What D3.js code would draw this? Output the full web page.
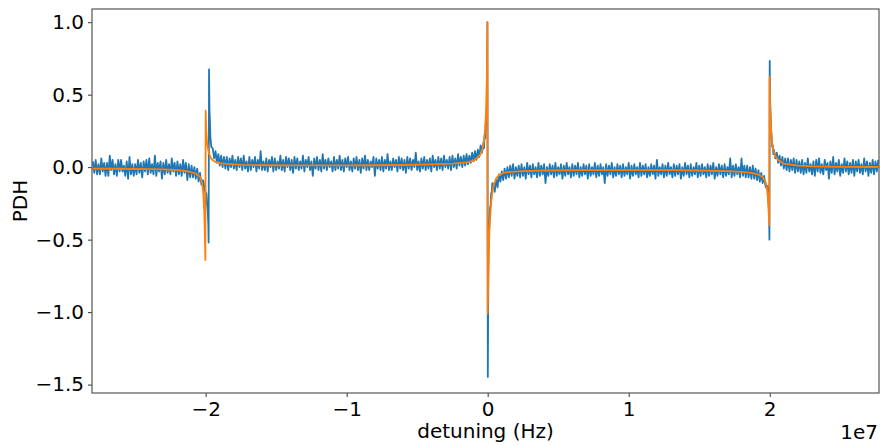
<!DOCTYPE html>
<html>
<head>
<meta charset="utf-8">
<script src="https://cdn.jsdelivr.net/npm/d3@7"></script>
<style>
  html, body { margin: 0; padding: 0; background: #fff; }
  svg { display: block; }
  text { font-family: "DejaVu Sans", sans-serif; fill: #000; }
</style>
</head>
<body>
<div id="chart"></div>
<script>
// ---------------- data ----------------
// measured PDH signal on a regular sweep (Hz); null where the finer resonance samples below take over
const sweepStart = -2.8e7;
const sweepStep = 1e5;
const sweepSignal = [
  // -2.80e7 .. -2.03e7
  0.04, -0.04, 0.05, -0.05, 0.02, -0.05, 0.06, -0.03, 0.03, -0.06,
  0.03, -0.06, 0.08, -0.02, 0.05, -0.05, 0.02, -0.06, 0.05, -0.03,
  0.05, -0.03, 0.01, -0.06, 0.04, -0.08, 0.07, -0.05, 0.02, -0.06,
  0.02, -0.05, 0.05, -0.04, 0.03, -0.07, 0.04, -0.03, 0.05, -0.05,
  0.06, -0.04, 0.02, -0.05, 0.08, -0.06, 0.03, -0.03, 0.04, -0.08,
  0.03, -0.05, 0.05, -0.04, 0.02, -0.05, 0.06, -0.03, 0.03, -0.06,
  0.04, -0.05, 0.02, -0.06, 0.05, -0.04, 0.03, -0.09, 0.02, -0.07,
  0.01, -0.07, 0.00, -0.08, -0.01, -0.10, -0.04, -0.12,
  null, null, null, null, null, null, null,
  // -1.95e7 .. -0.04e7
  0.13, 0.06, 0.11, 0.03, 0.09, 0.01, 0.08, 0.00, 0.07, -0.01,
  0.07, -0.02, 0.06, 0.00, 0.08, -0.01, 0.05, -0.02, 0.07, 0.00,
  0.06, -0.02, 0.08, -0.01, 0.04, -0.03, 0.07, -0.02, 0.05, 0.00,
  0.07, -0.03, 0.05, -0.01, 0.11, -0.02, 0.04, -0.02, 0.06, -0.03,
  0.05, 0.00, 0.07, -0.03, 0.06, -0.02, 0.04, -0.01, 0.08, -0.02,
  0.05, -0.03, 0.07, 0.00, 0.06, -0.02, 0.05, -0.04, 0.07, -0.01,
  0.06, -0.02, 0.04, -0.01, 0.08, -0.03, 0.05, 0.00, 0.07, -0.02,
  0.04, -0.06, 0.06, -0.01, 0.07, -0.02, 0.05, -0.03, 0.09, -0.01,
  0.05, -0.02, 0.06, 0.00, 0.04, -0.03, 0.07, -0.02, 0.05, -0.01,
  0.08, -0.02, 0.05, -0.03, 0.06, 0.00, 0.07, -0.02, 0.04, -0.03,
  0.06, -0.01, 0.07, -0.02, 0.05, -0.04, 0.06, -0.01, 0.08, -0.02,
  0.05, -0.02, 0.04, 0.00, 0.07, -0.06, 0.06, -0.01, 0.05, -0.02,
  0.07, -0.03, 0.05, -0.01, 0.09, -0.02, 0.04, -0.02, 0.06, 0.00,
  0.05, -0.03, 0.07, -0.01, 0.06, -0.02, 0.05, -0.04, 0.07, -0.01,
  0.06, -0.02, 0.05, 0.00, 0.10, -0.02, 0.04, -0.03, 0.06, -0.01,
  0.07, -0.02, 0.05, -0.01, 0.06, -0.03, 0.08, 0.00, 0.05, -0.02,
  0.07, -0.01, 0.06, -0.02, 0.08, 0.00, 0.05, -0.01, 0.07, -0.02,
  0.08, 0.00, 0.06, -0.01, 0.09, 0.01, 0.07, 0.00, 0.08, 0.01,
  0.09, 0.02, 0.08, 0.03, 0.10, 0.04, 0.11, 0.05, 0.12, 0.07, 0.15, 0.10,
  null, null, null, null, null, null, null,
  // 0.04e7 .. 1.97e7
  -0.12, -0.17, -0.08, -0.14, -0.05, -0.10, -0.03, -0.09, -0.01, -0.08,
  0.00, -0.07, 0.01, -0.06, 0.02, -0.08, 0.00, -0.06, 0.01, -0.07,
  0.02, -0.06, 0.00, -0.08, 0.03, -0.05, 0.01, -0.07, 0.02, -0.05,
  0.00, -0.07, 0.03, -0.06, 0.01, -0.05, 0.02, -0.11, 0.00, -0.06,
  0.02, -0.05, 0.01, -0.07, 0.03, -0.06, 0.00, -0.05, 0.02, -0.08,
  0.01, -0.06, 0.03, -0.05, 0.00, -0.07, 0.02, -0.06, 0.01, -0.05,
  0.03, -0.07, 0.00, -0.06, 0.02, -0.05, 0.01, -0.08, 0.02, -0.06,
  0.00, -0.05, 0.03, -0.07, 0.01, -0.06, 0.02, -0.05, 0.00, -0.11,
  0.02, -0.06, 0.01, -0.05, 0.03, -0.07, 0.00, -0.06, 0.02, -0.05,
  0.01, -0.07, 0.02, -0.06, 0.00, -0.05, 0.03, -0.08, 0.01, -0.06,
  0.02, -0.05, 0.00, -0.07, 0.03, -0.06, 0.01, -0.05, 0.02, -0.07,
  0.00, -0.06, 0.02, -0.05, 0.01, -0.08, 0.05, -0.06, 0.00, -0.05,
  0.02, -0.07, 0.01, -0.06, 0.03, -0.05, 0.00, -0.07, 0.02, -0.06,
  0.01, -0.05, 0.02, -0.08, 0.00, -0.06, 0.03, -0.05, 0.01, -0.07,
  0.02, -0.06, 0.00, -0.05, 0.03, -0.07, 0.01, -0.06, 0.02, -0.05,
  0.00, -0.07, 0.02, -0.06, 0.01, -0.05, 0.03, -0.08, 0.00, -0.06,
  0.02, -0.05, 0.01, -0.07, 0.02, -0.06, 0.00, -0.05, 0.06, -0.07,
  0.01, -0.06, 0.02, -0.05, 0.00, -0.07, 0.06, -0.06, 0.01, -0.07,
  0.01, -0.07, 0.00, -0.08, 0.01, -0.08, -0.01, -0.09, -0.02, -0.10,
  -0.04, -0.11, -0.06, -0.13,
  null, null, null, null, null,
  // 2.03e7 .. 2.77e7
  0.12, 0.06, 0.10, 0.03, 0.08, 0.01, 0.07, -0.01, 0.06, -0.02,
  0.06, -0.03, 0.05, -0.02, 0.06, -0.04, 0.05, -0.03, 0.04, -0.04,
  0.05, -0.05, 0.03, -0.04, 0.06, -0.03, 0.02, -0.05, 0.04, -0.06,
  0.05, -0.03, 0.06, -0.04, 0.02, -0.05, 0.05, -0.02, 0.03, -0.08,
  0.04, -0.04, 0.07, -0.05, 0.03, -0.03, 0.05, -0.06, 0.02, -0.04,
  0.06, -0.03, 0.04, -0.05, 0.03, -0.04, 0.05, -0.06, 0.04, -0.03,
  0.05, -0.04, 0.02, -0.05, 0.06, -0.03, 0.04, -0.06, 0.03, -0.04,
  0.05, -0.05, 0.04, -0.03, 0.05
];
// finer samples of the measured signal around the three resonances (Hz)
const resonanceDetuning = [
  -2.020e7, -2.015e7, -2.010e7, -2.005e7, -2.000e7, -1.995e7, -1.990e7, -1.985e7, -1.981e7, -1.979e7,
  -1.976e7, -1.973e7, -1.970e7, -1.967e7, -1.963e7, -1.960e7,
  -0.030e7, -0.026e7, -0.022e7, -0.018e7, -0.014e7, -0.010e7, -0.007e7, -0.004e7, -0.002e7,
  0.001e7, 0.005e7, 0.009e7, 0.013e7, 0.017e7, 0.021e7, 0.025e7, 0.029e7, 0.033e7,
  1.980e7, 1.985e7, 1.989e7, 1.993e7, 1.996e7, 1.998e7,
  2.000e7, 2.003e7, 2.006e7, 2.010e7, 2.014e7, 2.018e7, 2.022e7, 2.026e7
];
const resonanceSignal = [
  -0.09, -0.10, -0.16, -0.13, -0.21, -0.18, -0.26, -0.30, -0.40, -0.52,
  0.675, 0.40, 0.33, 0.22, 0.17, 0.14,
  0.17, 0.13, 0.22, 0.20, 0.30, 0.33, 0.40, 0.55, 1.00,
  -1.447, -0.62, -0.45, -0.36, -0.28, -0.26, -0.18, -0.17, -0.11,
  -0.15, -0.13, -0.22, -0.25, -0.35, -0.50,
  0.733, 0.45, 0.36, 0.26, 0.20, 0.14, 0.15, 0.09
];
// fitted PDH model
const fitDetuning = [
  -2.806e7, -2.6e7, -2.4e7, -2.3e7, -2.2e7, -2.12e7, -2.07e7, -2.04e7, -2.025e7, -2.017e7,
  -2.010e7, -2.006e7, -2.002e7, -2.000e7, -1.996e7, -1.990e7, -1.982e7, -1.975e7, -1.96e7, -1.94e7,
  -1.90e7, -1.85e7, -1.75e7, -1.6e7, -1.4e7, -1.2e7, -1.0e7, -0.8e7, -0.6e7, -0.4e7,
  -0.25e7, -0.15e7, -0.10e7, -0.07e7, -0.05e7, -0.035e7, -0.025e7, -0.017e7, -0.011e7, -0.006e7,
  -0.002e7, 0.000e7, 0.006e7, 0.011e7, 0.016e7, 0.025e7, 0.035e7, 0.045e7, 0.06e7, 0.08e7,
  0.11e7, 0.16e7, 0.25e7, 0.4e7, 0.7e7, 1.0e7, 1.3e7, 1.5e7, 1.7e7, 1.8e7,
  1.87e7, 1.92e7, 1.95e7, 1.968e7, 1.978e7, 1.986e7, 1.992e7, 1.997e7, 1.999e7, 2.004e7,
  2.010e7, 2.018e7, 2.025e7, 2.04e7, 2.06e7, 2.10e7, 2.2e7, 2.3e7, 2.5e7, 2.775e7
];
const fitSignal = [
  -0.010, -0.011, -0.013, -0.016, -0.021, -0.030, -0.045, -0.066, -0.11, -0.18,
  -0.30, -0.45, -0.64, 0.39, 0.26, 0.17, 0.12, 0.09, 0.058, 0.040,
  0.028, 0.022, 0.016, 0.013, 0.012, 0.012, 0.012, 0.013, 0.015, 0.019,
  0.025, 0.033, 0.045, 0.065, 0.09, 0.13, 0.19, 0.28, 0.40, 0.62,
  1.00, -1.008, -0.70, -0.48, -0.365, -0.24, -0.16, -0.115, -0.08, -0.055,
  -0.040, -0.032, -0.027, -0.023, -0.020, -0.020, -0.021, -0.023, -0.027, -0.032,
  -0.040, -0.052, -0.068, -0.095, -0.13, -0.20, -0.30, -0.40, 0.624, 0.40,
  0.25, 0.16, 0.12, 0.075, 0.05, 0.025, 0.010, 0.005, 0.002, 0.001
];
const xTicks = [-2e7, -1e7, 0, 1e7, 2e7];
const xTickLabels = ["\u22122", "\u22121", "0", "1", "2"];
const yTicks = [-1.5, -1.0, -0.5, 0.0, 0.5, 1.0];
const xDomain = [-2.806e7, 2.775e7];
const yDomain = [-1.558, 1.091];
const xLabel = "detuning (Hz)";
const yLabel = "PDH";
const xOffsetText = "1e7";

// ---------------- layout ----------------
const W = 880, H = 446;
const m = { left: 92, top: 9, right: 1, bottom: 53 };
const iw = W - m.left - m.right, ih = H - m.top - m.bottom;

const svg = d3.select("#chart").append("svg").attr("width", W).attr("height", H);
const x = d3.scaleLinear().domain(xDomain).range([m.left, m.left + iw]);
const y = d3.scaleLinear().domain(yDomain).range([m.top + ih, m.top]);

svg.append("clipPath").attr("id", "clip").append("rect")
  .attr("x", m.left).attr("y", m.top).attr("width", iw).attr("height", ih);

// measured points: sweep grid + fine resonance samples
const measured = [];
sweepSignal.forEach((v, i) => { if (v !== null) measured.push([sweepStart + i * sweepStep, v]); });
resonanceDetuning.forEach((d, i) => measured.push([d, resonanceSignal[i]]));
measured.sort((a, b) => a[0] - b[0]);
const fit = fitDetuning.map((d, i) => [d, fitSignal[i]]);

const line = d3.line().x(d => x(d[0])).y(d => y(d[1]));
const plot = svg.append("g").attr("clip-path", "url(#clip)");
plot.append("path").datum(measured).attr("d", line)
  .attr("fill", "none").attr("stroke", "#1f77b4").attr("stroke-width", 1.8)
  .attr("stroke-linejoin", "round");
plot.append("path").datum(fit).attr("d", line)
  .attr("fill", "none").attr("stroke", "#ff7f0e").attr("stroke-width", 1.8)
  .attr("stroke-linejoin", "round");

// axes
const FS = 20;
const xAxis = d3.axisBottom(x).tickValues(xTicks).tickSize(4).tickPadding(5)
  .tickFormat((d, i) => xTickLabels[i]);
const gx = svg.append("g").attr("transform", `translate(0,${m.top + ih})`).call(xAxis);
const yAxis = d3.axisLeft(y).tickValues(yTicks).tickSize(4).tickPadding(4)
  .tickFormat(d3.format(".1f"));
const gy = svg.append("g").attr("transform", `translate(${m.left},0)`).call(yAxis);
[gx, gy].forEach(g => {
  g.select(".domain").remove();
  g.selectAll(".tick line").attr("stroke", "#333").attr("stroke-width", 1);
  g.selectAll(".tick text").attr("font-size", FS).attr("font-family", "DejaVu Sans").attr("fill", "#000");
});

// frame
svg.append("rect").attr("x", m.left).attr("y", m.top).attr("width", iw).attr("height", ih)
  .attr("fill", "none").attr("stroke", "#555").attr("stroke-width", 1.2);

// labels
svg.append("text").attr("x", m.left + iw / 2).attr("y", 438)
  .attr("text-anchor", "middle").attr("font-size", FS).text(xLabel);
svg.append("text").attr("transform", `translate(27,${m.top + ih / 2}) rotate(-90)`)
  .attr("text-anchor", "middle").attr("font-size", FS).text(yLabel);
svg.append("text").attr("x", 878).attr("y", 439)
  .attr("text-anchor", "end").attr("font-size", FS).text(xOffsetText);
</script>
</body>
</html>
